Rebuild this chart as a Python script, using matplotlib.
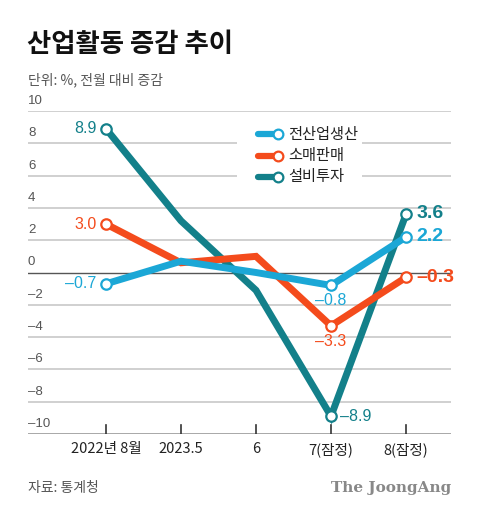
import matplotlib
matplotlib.use("Agg")
import matplotlib.pyplot as plt
from matplotlib.patches import Rectangle
from matplotlib.lines import Line2D

plt.rcParams['font.family'] = ['Noto Sans CJK KR', 'DejaVu Sans']

categories = ["2022년 8월", "2023.5", "6", "7(잠정)", "8(잠정)"]
production = [-0.7, 0.7, 0.0, -0.8, 2.2]
retail = [3.0, 0.6, 1.0, -3.3, -0.3]
investment = [8.9, 3.2, -1.1, -8.9, 3.6]
series_names = ["전산업생산", "소매판매", "설비투자"]
yticks = [10, 8, 6, 4, 2, 0, -2, -4, -6, -8, -10]

C_CYAN = "#1ba7d6"
C_ORANGE = "#f44b1c"
C_TEAL = "#13808a"
NUMF = ['Liberation Sans', 'DejaVu Sans']
MINUS = "\u2013"
W, H = 480, 515

fig = plt.figure(figsize=(4.8, 5.15), dpi=100)
def fx(x): return x / W
def fy(y): return 1 - y / H

ax = fig.add_axes([fx(28), fy(434), fx(451) - fx(28), fy(111) - fy(434)])
ax.set_xlim(-1.04, 4.6)
ax.set_ylim(-10, 10)
for s in ax.spines.values():
    s.set_visible(False)
ax.set_xticks([])
ax.set_yticks([])

# gridlines
for v in yticks:
    if v == 0:
        ax.axhline(v, color="#555555", lw=1.0, zorder=1)
    elif v == -10:
        ax.axhline(v, color="#999999", lw=1.2, zorder=1)
    else:
        ax.axhline(v, color="#c8c8c8", lw=1.2, zorder=1)
    lab = str(v) if v >= 0 else MINUS + str(-v)
    ax.text(-1.04, v + 0.25, lab, ha="left", va="bottom", fontsize=9.5,
            color="#555555", family=NUMF)

xs = list(range(len(categories)))
for i, c in enumerate(categories):
    ax.plot([i, i], [-10, -9.45], color="#333333", lw=1.2, zorder=2)
    ax.text(i, -10.5, c, ha="center", va="top", fontsize=10.5, color="#222222")

# white box behind legend
ax.add_patch(Rectangle((fx(237), fy(188)), fx(362) - fx(237), fy(124) - fy(188),
                       transform=fig.transFigure, facecolor="white", edgecolor="none", zorder=3))

for vals, col in [(investment, C_TEAL), (retail, C_ORANGE), (production, C_CYAN)]:
    ax.plot(xs, vals, color=col, lw=5, solid_joinstyle="miter", zorder=4)
    ax.plot([0, 3, 4], [vals[0], vals[3], vals[4]], "o", ms=7.5, mfc="white",
            mec=col, mew=1.6, zorder=5, lw=0)

def fmt(v):
    return (MINUS if v < 0 else "") + f"{abs(v):.1f}"

# labels at first point
ax.text(-0.13, investment[0], fmt(investment[0]), ha="right", va="center", fontsize=11.5, color=C_TEAL, family=NUMF)
ax.text(-0.13, retail[0], fmt(retail[0]), ha="right", va="center", fontsize=11.5, color=C_ORANGE, family=NUMF)
ax.text(-0.13, production[0], fmt(production[0]), ha="right", va="center", fontsize=11.5, color=C_CYAN, family=NUMF)
# labels at point 3
ax.text(3, production[3] - 0.45, fmt(production[3]), ha="center", va="top", fontsize=11.5, color=C_CYAN, family=NUMF)
ax.text(3, retail[3] - 0.5, fmt(retail[3]), ha="center", va="top", fontsize=11.5, color=C_ORANGE, family=NUMF)
ax.text(3.12, investment[3], fmt(investment[3]), ha="left", va="center", fontsize=11.5, color=C_TEAL, family=NUMF)
# labels at last point
ax.text(4.14, investment[4] + 0.05, fmt(investment[4]), ha="left", va="center", fontsize=14, fontweight="bold", color=C_TEAL, family=NUMF)
ax.text(4.14, production[4], fmt(production[4]), ha="left", va="center", fontsize=14, fontweight="bold", color=C_CYAN, family=NUMF)
ax.text(4.14, retail[4], fmt(retail[4]), ha="left", va="center", fontsize=14, fontweight="bold", color=C_ORANGE, family=NUMF)

# legend
for k, (name, col) in enumerate(zip(series_names, [C_CYAN, C_ORANGE, C_TEAL])):
    y = 134 + k * 21.5
    fig.add_artist(Line2D([fx(258), fx(276)], [fy(y), fy(y)], color=col, lw=4.5,
                          solid_capstyle="round", zorder=6))
    fig.add_artist(Line2D([fx(278)], [fy(y)], marker="o", ms=7, mfc="white", mec=col,
                          mew=1.6, zorder=7))
    fig.text(fx(288), fy(y), name, ha="left", va="center", fontsize=11, color="#222222")

# title etc.
fig.text(fx(27), fy(45), "산업활동 증감 추이", ha="left", va="center", fontsize=19,
         fontweight="bold", color="#111111")
fig.text(fx(28), fy(80), "단위: %, 전월 대비 증감", ha="left", va="center", fontsize=10,
         color="#555555")
fig.text(fx(28), fy(488), "자료: 통계청", ha="left", va="center", fontsize=10, color="#555555")
fig.text(fx(451), fy(488), "The JoongAng", ha="right", va="center", fontsize=11,
         fontweight="bold", color="#888888", family=['DejaVu Serif'])

fig.savefig("out.png", dpi=100)
